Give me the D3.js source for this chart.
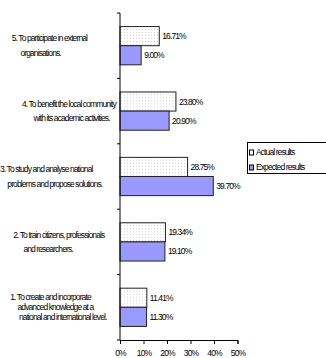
<!DOCTYPE html>
<html><head><meta charset="utf-8">
<script src="https://cdn.jsdelivr.net/npm/d3@7"></script>
<style>
html,body{margin:0;padding:0;background:#fff;}
text{font-family:"Liberation Sans",Arial,sans-serif;font-size:8.5px;letter-spacing:-0.9px;fill:#000;}
</style></head>
<body><svg id="c" width="326" height="358"></svg>
<script>
// data (top to bottom order as in chart)
const categories = ["5", "4", "3", "2", "1"];
const categoryLabels = [
  ["        5. To participate in external", "              organisations."],
  ["               4.  To benefit the local community", "                       with its academic activities."],
  ["3. To study and analyse national", "     problems and propose solutions."],
  ["         2. To train citizens, professionals", "                and researchers."],
  ["       1. To create and incorporate", "            advanced knowledge at a", "             national and international level."]
];
const seriesNames = ["Actual results", "Expected results"];
const actual = [16.71, 23.80, 28.75, 19.34, 11.41];
const expected = [9.00, 20.90, 39.70, 19.10, 11.30];
const actualLabels = ["16.71%", "23.80%", "28.75%", "19.34%", "11.41%"];
const expectedLabels = ["9.00%", "20.90%", "39.70%", "19.10%", "11.30%"];
const xTicks = [0, 10, 20, 30, 40, 50];

const nb = s => s.replace(/^ +/, m => "\u00A0".repeat(m.length));

const svg = d3.select("#c");
const defs = svg.append("defs");
const pat = defs.append("pattern").attr("id","dots").attr("width",3).attr("height",3).attr("patternUnits","userSpaceOnUse");
pat.append("rect").attr("width",3).attr("height",3).attr("fill","#fff");
pat.append("rect").attr("x",1).attr("y",1).attr("width",1).attr("height",1).attr("fill","#d4d4d4");

const x = d3.scaleLinear().domain([0,50]).range([120,237.5]);
const y = d3.scaleBand().domain(categories).range([13,340]).paddingInner(0).paddingOuter(0);
const ySub = d3.scaleBand().domain(seriesNames).range([0, y.bandwidth()]).paddingOuter(0.71).paddingInner(0);

const rows = categories.map((c,i)=>({c, i}));
const g = svg.append("g");
const grp = g.selectAll("g.cat").data(rows).join("g").attr("transform", d=>`translate(0,${y(d.c)})`);

grp.append("rect").attr("x", x(0)).attr("y", ySub(seriesNames[0]))
  .attr("width", d=>x(actual[d.i])-x(0)).attr("height", ySub.bandwidth())
  .attr("fill","url(#dots)").attr("stroke","#222").attr("stroke-width",1);
grp.append("rect").attr("x", x(0)).attr("y", ySub(seriesNames[1]))
  .attr("width", d=>x(expected[d.i])-x(0)).attr("height", ySub.bandwidth())
  .attr("fill","#9999ff").attr("stroke","#222").attr("stroke-width",1);

grp.append("text").attr("x", d=>x(actual[d.i])+3).attr("y", ySub(seriesNames[0])+ySub.bandwidth()/2).attr("dy","0.35em").text(d=>actualLabels[d.i]);
grp.append("text").attr("x", d=>x(expected[d.i])+3).attr("y", ySub(seriesNames[1])+ySub.bandwidth()/2).attr("dy","0.35em").text(d=>expectedLabels[d.i]);

// category labels
grp.each(function(d){
  const lines = categoryLabels[d.i];
  const lh = lines.length > 2 ? 10 : 14.5;
  const cy = y.bandwidth()/2;
  const t = d3.select(this).append("text");
  lines.forEach((ln,k)=>{
    t.append("tspan").attr("x",0).attr("y", cy - (lines.length-1)*lh/2 + k*lh).attr("dy","0.35em").text(nb(ln));
  });
});

// y axis line with band boundary ticks
const yAxisG = svg.append("g");
yAxisG.append("line").attr("x1",x(0)).attr("x2",x(0)).attr("y1",y.range()[0]).attr("y2",y.range()[1]).attr("stroke","#000");
const bounds = categories.map(c=>y(c)).concat([y.range()[1]]);
yAxisG.selectAll("line.t").data(bounds).join("line").attr("class","t")
  .attr("x1",x(0)-3).attr("x2",x(0)).attr("y1",d=>d).attr("y2",d=>d).attr("stroke","#000");

// x axis
const xAxis = d3.axisBottom(x).tickValues(xTicks).tickFormat(d=>d+"%").tickSize(4).tickPadding(6);
const xg = svg.append("g").attr("transform",`translate(0,${y.range()[1]})`).call(xAxis);
xg.select(".domain").attr("stroke","#000");
xg.selectAll(".tick line").attr("stroke","#000");
xg.selectAll("text").attr("font-family",null).attr("font-size",null).style("font-size","8.5px");

// legend
const lg = svg.append("g");
lg.append("rect").attr("x",247.5).attr("y",142.5).attr("width",79).attr("height",31).attr("fill","#fff").attr("stroke","#000");
const ly = d3.scalePoint().domain(seriesNames).range([152.5,167.5]);
lg.selectAll("rect.sw").data(seriesNames).join("rect").attr("class","sw")
  .attr("x",249.5).attr("y",d=>ly(d)-2.5).attr("width",4).attr("height",5)
  .attr("fill",(d,i)=>i===0?"#fff":"#9999ff").attr("stroke","#000");
lg.selectAll("text.lt").data(seriesNames).join("text").attr("class","lt")
  .attr("x",256).attr("y",d=>ly(d)).attr("dy","0.35em").text(d=>d);
</script></body></html>
